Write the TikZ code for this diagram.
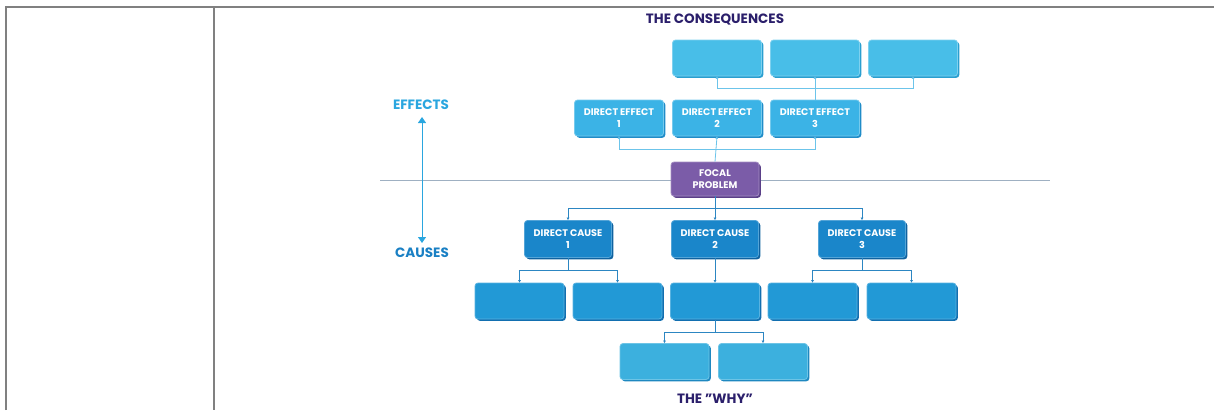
\documentclass[tikz,border=0pt]{standalone}
\usepackage{fontspec}
\setmainfont{Poppins}
\usetikzlibrary{arrows.meta}
\definecolor{frame}{HTML}{808080}
\definecolor{titlec}{HTML}{2B1F6B}
\definecolor{conseq}{HTML}{48BEE8}
\definecolor{conseqd}{HTML}{2A9FD0}
\definecolor{effc}{HTML}{3BB3E6}
\definecolor{effd}{HTML}{1F8CC8}
\definecolor{focal}{HTML}{7B5CA8}
\definecolor{focald}{HTML}{5A3F88}
\definecolor{dcause}{HTML}{1A86CA}
\definecolor{dcaused}{HTML}{0F62A0}
\definecolor{lcause}{HTML}{2299D6}
\definecolor{lcaused}{HTML}{126FB0}
\definecolor{whyc}{HTML}{3CB0DE}
\definecolor{whyd}{HTML}{1E88C0}
\definecolor{lightln}{HTML}{6CC4EA}
\definecolor{darkln}{HTML}{2C86C2}
\definecolor{effl}{HTML}{2AA6DF}
\definecolor{causel}{HTML}{1A80C4}
\definecolor{midln}{HTML}{9FB0C2}
\tikzset{
  boxbase/.style={rectangle, rounded corners=3pt, minimum width=89pt, minimum height=36pt,
    text=white, font=\bfseries\fontsize{9.6}{12.5}\selectfont, align=center, inner sep=1pt, line width=0.8pt},
  cbox/.style={boxbase, fill=conseq, draw=conseq!70!white,
    preaction={fill=conseqd, transform canvas={shift={(1.8pt,-1.8pt)}}}},
  ebox/.style={boxbase, fill=effc, draw=effc!70!white,
    preaction={fill=effd, transform canvas={shift={(1.8pt,-1.8pt)}}}},
  fbox/.style={boxbase, fill=focal, draw=focal!70!white, minimum width=88pt, minimum height=34pt,
    preaction={fill=focald, transform canvas={shift={(1.8pt,-1.8pt)}}}},
  dbox/.style={boxbase, fill=dcause, draw=dcause!75!white, minimum width=87pt, minimum height=37pt,
    preaction={fill=dcaused, transform canvas={shift={(1.8pt,-1.8pt)}}}},
  lbox/.style={boxbase, fill=lcause, draw=lcause!75!white,
    preaction={fill=lcaused, transform canvas={shift={(1.8pt,-1.8pt)}}}},
  wbox/.style={boxbase, fill=whyc, draw=whyc!75!white,
    preaction={fill=whyd, transform canvas={shift={(1.8pt,-1.8pt)}}}},
  title/.style={text=titlec, font=\bfseries\fontsize{13.5}{15}\selectfont},
  side/.style={font=\bfseries\fontsize{13.5}{15}\selectfont},
  lconn/.style={draw=lightln, line width=0.8pt},
  dconn/.style={draw=darkln, line width=0.8pt},
  tip/.style={-{Triangle[length=2.5pt,width=2.5pt]}},
  framel/.style={draw=frame, line width=2pt},
}
\begin{document}
\begin{tikzpicture}[x=1pt,y=-1pt]
\useasboundingbox (0,0) rectangle (1214,410);
% table frame
\draw[framel] (6,410) -- (6,7) -- (1214,7);
\draw[framel] (214,7) -- (214,410);
% horizontal divider
\draw[draw=midln, line width=0.8pt] (380,180) -- (1050,180);
% titles
\node[title] (tcons) at (715,20) {THE CONSEQUENCES};
\node[title] (twhy) at (715,399) {THE "WHY"};
% side labels
\node[side, text=effl] (effects) at (421,105) {EFFECTS};
\node[side, text=causel] (causes) at (422,253) {CAUSES};
\draw[draw=effl, line width=1pt, {Triangle[length=6pt,width=8pt]}-{Triangle[length=6pt,width=8pt]}]
  (422,117) -- (422,243);
% consequence boxes
\node[cbox] (c1) at (717,58) {};
\node[cbox] (c2) at (815,58) {};
\node[cbox] (c3) at (913,58) {};
% direct effects
\node[ebox] (e1) at (619,118) {DIRECT EFFECT\\1};
\node[ebox] (e2) at (717,118) {DIRECT EFFECT\\2};
\node[ebox] (e3) at (815,118) {DIRECT EFFECT\\3};
% focal problem
\node[fbox] (fp) at (715,179) {FOCAL\\PROBLEM};
% direct causes
\node[dbox] (d1) at (568,239) {DIRECT CAUSE\\1};
\node[dbox] (d2) at (715,239) {DIRECT CAUSE\\2};
\node[dbox] (d3) at (862,239) {DIRECT CAUSE\\3};
% lower causes
\node[lbox] (l1) at (519.5,301) {};
\node[lbox] (l2) at (617.5,301) {};
\node[lbox] (l3) at (715,301) {};
\node[lbox] (l4) at (812.5,301) {};
\node[lbox] (l5) at (911.5,301) {};
% why boxes
\node[wbox] (w1) at (664.5,361.5) {};
\node[wbox] (w2) at (763,361.5) {};
% connectors: effects -> consequences
\coordinate (jc) at (e3.north |- 0,88);
\draw[lconn,tip] (e3.north) -- (c2.south);
\draw[lconn,tip] (jc) -| (c1.south);
\draw[lconn,tip] (jc) -| (c3.south);
% focal -> effects
\coordinate (je) at (fp.north |- 0,149);
\draw[lconn,tip] (fp.north) -- (e2.south);
\draw[lconn,tip] (je) -| (e1.south);
\draw[lconn,tip] (je) -| (e3.south);
% focal -> direct causes
\coordinate (jd) at (fp.south |- 0,208);
\draw[dconn,tip] (fp.south) -- (d2.north);
\draw[dconn,tip] (jd) -| (d1.north);
\draw[dconn,tip] (jd) -| (d3.north);
% direct cause 1 -> lower
\coordinate (j1) at (d1.south |- 0,270);
\draw[dconn] (d1.south) -- (j1);
\draw[dconn,tip] (j1) -| (l1.north);
\draw[dconn,tip] (j1) -| (l2.north);
% direct cause 2 -> lower
\draw[dconn,tip] (d2.south) -- (l3.north);
% direct cause 3 -> lower
\coordinate (j3) at (d3.south |- 0,270);
\draw[dconn] (d3.south) -- (j3);
\draw[dconn,tip] (j3) -| (l4.north);
\draw[dconn,tip] (j3) -| (l5.north);
% lower 3 -> why
\coordinate (jw) at (l3.south |- 0,332);
\draw[dconn] (l3.south) -- (jw);
\draw[dconn,tip] (jw) -| (w1.north);
\draw[dconn,tip] (jw) -| (w2.north);
\end{tikzpicture}
\end{document}
